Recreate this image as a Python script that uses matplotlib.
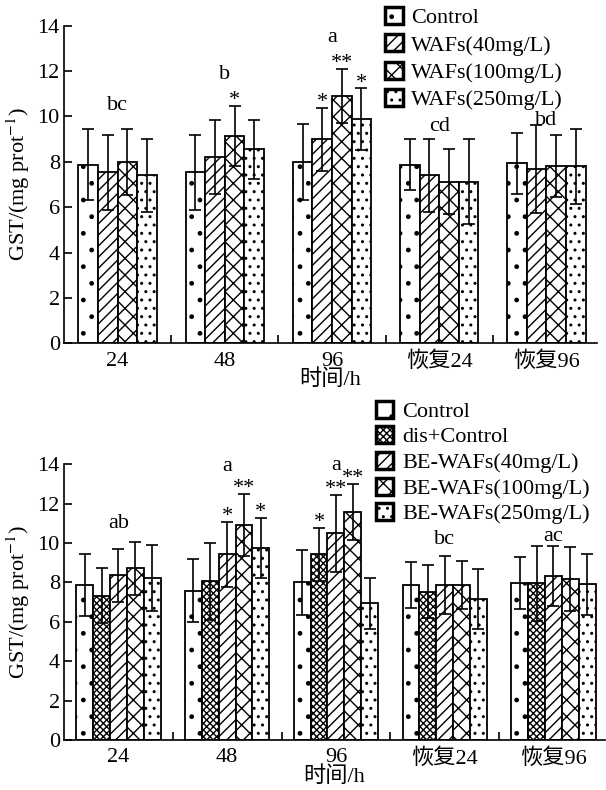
import matplotlib
matplotlib.use("Agg")
import matplotlib.pyplot as plt
import numpy as np

plt.rcParams['font.family'] = ['Liberation Serif', 'Noto Sans CJK SC']
plt.rcParams['mathtext.fontset'] = 'stix'
plt.rcParams['hatch.linewidth'] = 1.0

times = ['24', '48', '96', '恢复24', '恢复96']

# top panel: WAFs
top_names = ['Control', 'WAFs(40mg/L)', 'WAFs(100mg/L)', 'WAFs(250mg/L)']
top_control = [7.88, 7.54, 7.99, 7.88, 7.93]
top_w40 = [7.54, 8.21, 8.99, 7.40, 7.69]
top_w100 = [7.99, 9.14, 10.90, 7.13, 7.80]
top_w250 = [7.40, 8.55, 9.87, 7.13, 7.80]
top_control_err = [1.56, 1.66, 1.68, 1.14, 1.35]
top_w40_err = [1.66, 1.63, 1.39, 1.60, 1.95]
top_w100_err = [1.45, 1.33, 1.20, 1.45, 1.37]
top_w250_err = [1.62, 1.29, 1.37, 1.86, 1.64]
top_letters = ['bc', 'b', 'a', 'cd', 'bd']
top_letter_y = [10.5, 11.83, 13.46, 9.54, 9.84]
top_stars = [(1, 2, '*'), (2, 1, '*'), (2, 2, '**'), (2, 3, '*')]

# bottom panel: BE-WAFs
bot_names = ['Control', 'dis+Control', 'BE-WAFs(40mg/L)', 'BE-WAFs(100mg/L)', 'BE-WAFs(250mg/L)']
bot_control = [7.88, 7.59, 8.00, 7.87, 7.95]
bot_dis = [7.32, 8.05, 9.42, 7.53, 7.95]
bot_b40 = [8.37, 9.42, 10.49, 7.87, 8.34]
bot_b100 = [8.71, 10.92, 11.56, 7.87, 8.17]
bot_b250 = [8.22, 9.76, 6.94, 7.16, 7.90]
bot_control_err = [1.56, 1.58, 1.67, 1.15, 1.32]
bot_dis_err = [1.39, 1.96, 1.35, 1.35, 1.91]
bot_b40_err = [1.34, 1.64, 1.95, 1.47, 1.52]
bot_b100_err = [1.35, 1.56, 1.42, 1.22, 1.64]
bot_b250_err = [1.66, 1.52, 1.30, 1.52, 1.54]
bot_letters = ['ab', 'a', 'a', 'bc', 'ac']
bot_letter_y = [10.99, 13.9, 13.96, 10.19, 10.32]
bot_stars = [(1, 2, '*'), (1, 3, '**'), (1, 4, '*'), (2, 1, '*'), (2, 2, '**'), (2, 3, '**')]

FS = 16


def draw_panel(ax, names, means, errs, hatches, width, letters, letter_y, stars):
    x = np.arange(len(times))
    n = len(means)
    tops = []
    for i in range(n):
        pos = x + (i - (n - 1) / 2) * width
        ax.bar(pos, means[i], width, color='white', edgecolor='black',
               linewidth=1.3, hatch=hatches[i], label=names[i], zorder=2)
        ax.errorbar(pos, means[i], yerr=errs[i], fmt='none', ecolor='black',
                    elinewidth=1.2, capsize=4, capthick=1.2, zorder=3)
        tops.append((pos, np.array(means[i]) + np.array(errs[i])))
    for g, s, txt in stars:
        pos, t = tops[s]
        ax.text(pos[g], t[g] - 0.2, txt, ha='center', va='bottom', fontsize=FS)
    for g, txt in enumerate(letters):
        ax.text(x[g], letter_y[g], txt, ha='center', va='center', fontsize=FS)

    ax.set_xlim(-0.5, 4.47)
    ax.set_ylim(0, 14)
    ax.set_yticks(range(0, 15, 2))
    ax.set_xticks(x)
    ax.set_xticklabels(times)
    ax.set_xticks([0.5, 1.5, 2.5, 3.5], minor=True)
    ax.tick_params(axis='x', which='major', length=0, pad=6, labelsize=FS)
    ax.tick_params(axis='x', which='minor', direction='in', length=6, width=1.2)
    ax.tick_params(axis='y', direction='in', length=6, width=1.2, pad=3, labelsize=FS)
    for side in ['top', 'right']:
        ax.spines[side].set_visible(False)
    for side in ['left', 'bottom']:
        ax.spines[side].set_linewidth(1.2)
    ax.set_ylabel('GST/(mg prot$^{-1}$)', fontsize=FS, labelpad=4)
    ax.set_xlabel('时间/h', fontsize=FS, labelpad=-2)


fig = plt.figure(figsize=(6.06, 7.9), dpi=100)

ax1 = fig.add_axes([0.1056, 0.5654, 0.879, 0.4021])
draw_panel(ax1, top_names,
           [top_control, top_w40, top_w100, top_w250],
           [top_control_err, top_w40_err, top_w100_err, top_w250_err],
           ['.', '///', 'xx', '..'], 0.183,
           top_letters, top_letter_y, top_stars)
leg1 = ax1.legend(loc='upper left', bbox_to_anchor=(0.635, 0.991),
                  bbox_transform=fig.transFigure, frameon=False, fontsize=FS,
                  handlelength=0.8, handleheight=0.8, handletextpad=0.4,
                  labelspacing=0.27, borderpad=0, borderaxespad=0)
for h in leg1.legend_handles:
    h.set_linewidth(2.5)

ax2 = fig.add_axes([0.1056, 0.0633, 0.892, 0.349])
draw_panel(ax2, bot_names,
           [bot_control, bot_dis, bot_b40, bot_b100, bot_b250],
           [bot_control_err, bot_dis_err, bot_b40_err, bot_b100_err, bot_b250_err],
           ['.', 'xxxxx', '///', 'xx', '..'], 0.155,
           bot_letters, bot_letter_y, bot_stars)
leg2 = ax2.legend(loc='upper left', bbox_to_anchor=(0.62, 0.493),
                  bbox_transform=fig.transFigure, frameon=False, fontsize=FS,
                  handlelength=0.8, handleheight=0.8, handletextpad=0.4,
                  labelspacing=0.2, borderpad=0, borderaxespad=0)
for h in leg2.legend_handles:
    h.set_linewidth(2.5)

fig.savefig('out.png', dpi=100)
